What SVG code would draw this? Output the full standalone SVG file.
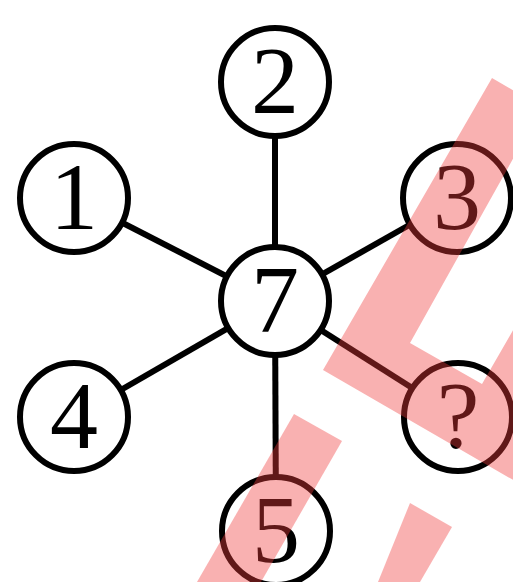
<svg xmlns="http://www.w3.org/2000/svg" width="513" height="582" viewBox="0 0 513 582">
<style>
.node circle{fill:#fff;stroke:#000;stroke-width:6}
.node text{font-family:"Liberation Serif","Times New Roman",serif;font-size:96px;text-anchor:middle;fill:#000}
.edges line{stroke:#000;stroke-width:6}
.wm{fill:#f03c3c;opacity:0.4}
</style>
<rect width="513" height="582" fill="#fff"/>
<g class="edges" id="connectors">
<line x1="275" y1="301" x2="275" y2="82"/>
<line x1="275" y1="301" x2="74" y2="198"/>
<line x1="275" y1="301" x2="457" y2="198"/>
<line x1="275" y1="301" x2="74" y2="417"/>
<line x1="275" y1="301" x2="458" y2="417"/>
<line x1="275" y1="301" x2="276" y2="531"/>
</g>
<g class="node" id="n2"><circle cx="275" cy="82" r="54"/><text x="275" y="113">2</text></g>
<g class="node" id="n1"><circle cx="74" cy="198" r="54"/><text x="74" y="229">1</text></g>
<g class="node" id="n3"><circle cx="457" cy="198" r="54"/><text x="457" y="229">3</text></g>
<g class="node" id="n7"><circle cx="275" cy="301" r="54"/><text x="275" y="332">7</text></g>
<g class="node" id="n4"><circle cx="74" cy="417" r="54"/><text x="74" y="448">4</text></g>
<g class="node" id="nq"><circle cx="458" cy="417" r="54"/><text x="458" y="448">?</text></g>
<g class="node" id="n5"><circle cx="276" cy="531" r="54"/><text x="276" y="562">5</text></g>
<g id="watermark">
<polygon class="wm" points="492,78 542,107 410,343 482,384 582,211 700,211 700,588 323,370"/>
<polygon class="wm" points="294,414 342,441 261,582 197,582"/>
<polygon class="wm" points="410,503 452,527 420,582 378,582"/>
</g>
</svg>
